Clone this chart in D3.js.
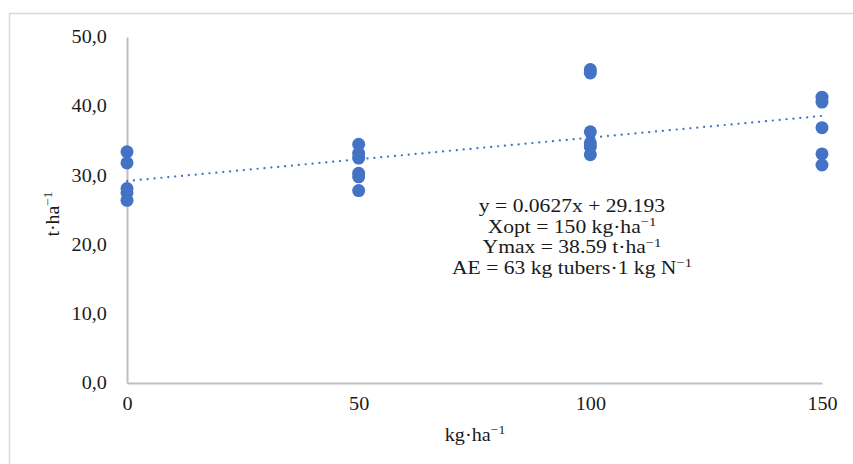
<!DOCTYPE html>
<html>
<head>
<meta charset="utf-8">
<script src="https://cdn.jsdelivr.net/npm/d3@7"></script>
<style>
  body { margin: 0; background: #fff; }
  text { font-family: "Liberation Serif", "Times New Roman", serif; fill: #1a1a1a; }
</style>
</head>
<body>
<div id="chart"></div>
<script>
// data
const doses = [0, 0, 0, 0, 0, 50, 50, 50, 50, 50, 50, 100, 100, 100, 100, 100, 100, 150, 150, 150, 150, 150];
const yields = [33.4, 31.8, 28.1, 27.5, 26.4, 34.5, 33.2, 32.5, 30.3, 29.8, 27.8, 45.3, 44.8, 36.3, 34.7, 34.1, 33.0, 41.3, 40.6, 36.9, 33.1, 31.5];
const xTicks = [0, 50, 100, 150];
const yTicks = [0, 10, 20, 30, 40, 50];
const slope = 0.0627;
const intercept = 29.193;
const noteLines = [
  "y = 0.0627x + 29.193",
  "Xopt = 150 kg·ha^−1",
  "Ymax = 38.59 t·ha^−1",
  "AE = 63 kg tubers·1 kg N^−1"
];
const xTitle = "kg·ha^−1";
const yTitle = "t·ha^−1";

const W = 853, H = 464;
const margin = { top: 37, right: 31, bottom: 81, left: 127 };
const width = W - margin.left - margin.right;
const height = H - margin.top - margin.bottom;

// writes "base^sup" as text with a raised tspan
function supText(sel, str, size) {
  const [base, sup] = str.split("^");
  sel.attr("font-size", size);
  sel.append("tspan").text(base);
  if (sup) {
    sel.append("tspan")
      .attr("dy", -size * 0.38)
      .attr("font-size", size * 0.68)
      .text(sup);
  }
}

const svg = d3.select("#chart").append("svg")
  .attr("width", W)
  .attr("height", H);

// outer frame (cropped on right and bottom)
svg.append("path")
  .attr("d", "M9.5," + H + " V13.5 H" + W)
  .attr("fill", "none")
  .attr("stroke", "#d9d9d9")
  .attr("stroke-width", 1.5);

const g = svg.append("g")
  .attr("transform", "translate(" + margin.left + "," + margin.top + ")");

const x = d3.scaleLinear().domain([0, 150]).range([0, width]);
const y = d3.scaleLinear().domain([0, 50]).range([height, 0]);

// axes (the source text is a bit stretched sideways)
const xAxis = g.append("g")
  .attr("transform", "translate(0," + height + ")")
  .call(d3.axisBottom(x).tickValues(xTicks).tickSize(0).tickPadding(14).tickFormat(d3.format("d")));
const yAxis = g.append("g")
  .call(d3.axisLeft(y).tickValues(yTicks).tickSize(0).tickPadding(18).tickFormat(d => d.toFixed(1).replace(".", ",")));
[xAxis, yAxis].forEach(a => {
  a.select(".domain").attr("stroke", "#bfbfbf").attr("stroke-width", 2);
  a.selectAll("text")
    .attr("font-size", 18)
    .attr("font-family", "Liberation Serif")
    .attr("fill", "#1a1a1a")
    .attr("transform", "scale(1.12,1)");
});

// points
g.append("g").selectAll("circle")
  .data(doses.map((d, i) => [d, yields[i]]))
  .join("circle")
  .attr("cx", d => x(d[0]))
  .attr("cy", d => y(d[1]))
  .attr("r", 6.5)
  .attr("fill", "#4472c4");

// trend line
g.append("line")
  .attr("x1", x(0)).attr("y1", y(intercept))
  .attr("x2", x(150)).attr("y2", y(slope * 150 + intercept))
  .attr("stroke", "#4472c4")
  .attr("stroke-width", 2.2)
  .attr("stroke-linecap", "round")
  .attr("stroke-dasharray", "0.1 6.8");

// equation box
svg.append("g")
  .attr("transform", "translate(572,0) scale(1.2,1)")
  .selectAll("text")
  .data(noteLines)
  .join("text")
  .attr("x", 0)
  .attr("y", (d, i) => 212 + i * 20.7)
  .attr("text-anchor", "middle")
  .each(function (d) { supText(d3.select(this), d, 18); });

// axis titles
svg.append("text")
  .attr("transform", "translate(475,441) scale(1.12,1)")
  .attr("text-anchor", "middle")
  .call(supText, xTitle, 18);

svg.append("text")
  .attr("transform", "translate(59,214) rotate(-90) scale(1.1,1)")
  .attr("text-anchor", "middle")
  .call(supText, yTitle, 18);
</script>
</body>
</html>
